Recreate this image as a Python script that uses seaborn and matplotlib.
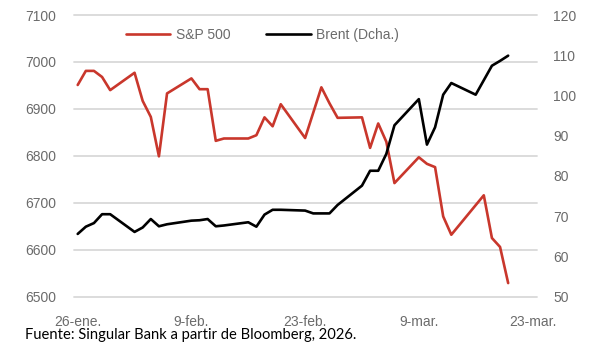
import pandas as pd
import matplotlib.pyplot as plt
import seaborn as sns

# business days 26-ene .. 20-mar (Feb 16 holiday filled with previous close)
dates = pd.bdate_range('2026-01-26', '2026-03-20')

sp500 = [6951, 6981, 6981, 6968, 6940,
         6977, 6917, 6883, 6799, 6933,
         6965, 6942, 6942, 6832, 6837,
         6837, 6844, 6882, 6863, 6910,
         6838, 6892, 6946, 6912, 6881,
         6882, 6817, 6869, 6830, 6742,
         6797, 6783, 6776, 6671, 6632,
         6695, 6716, 6625, 6606, 6529]

brent = [65.6, 67.4, 68.3, 70.5, 70.5,
         66.1, 67.2, 69.3, 67.5, 68.0,
         68.9, 69.0, 69.3, 67.5, 67.7,
         68.5, 67.4, 70.4, 71.6, 71.6,
         71.4, 70.7, 70.7, 70.7, 72.8,
         77.6, 81.3, 81.3, 85.5, 92.6,
         99.1, 87.8, 92.1, 100.2, 103.1,
         100.2, 103.8, 107.4, 108.6, 109.9]

tick_dates = ['2026-01-26', '2026-02-09', '2026-02-23', '2026-03-09', '2026-03-23']
tick_labels = ['26-ene.', '9-feb.', '23-feb.', '9-mar.', '23-mar.']
series_labels = ['S&P 500', 'Brent (Dcha.)']
source = 'Fuente: Singular Bank a partir de Bloomberg, 2026.'

df = pd.DataFrame({'Fecha': dates, 'SP500': sp500, 'Brent': brent})

sns.set_style('white')
plt.rcParams['font.family'] = ['Liberation Sans', 'DejaVu Sans']

grey = '#6b6b6b'
red = '#c9372c'

fig = plt.figure(figsize=(6, 3.55), dpi=100)
ax = fig.add_axes([0.1233, 0.1642, 0.7717, 0.7935])
ax2 = ax.twinx()

sns.lineplot(data=df, x='Fecha', y='SP500', color=red, linewidth=1.9, ax=ax, legend=False)
sns.lineplot(data=df, x='Fecha', y='Brent', color='black', linewidth=1.9, ax=ax2, legend=False)

# axes ranges
start = pd.Timestamp('2026-01-26')
ax.set_xlim(start - pd.Timedelta(hours=11), start + pd.Timedelta(days=56.55))
ax.set_ylim(6500, 7100)
ax.set_yticks(range(6500, 7101, 100))
ax2.set_ylim(50, 120)
ax2.set_yticks(range(50, 121, 10))

ax.set_xticks(pd.to_datetime(tick_dates))
ax.set_xticklabels(tick_labels)

for a in (ax, ax2):
    a.set_xlabel('')
    a.set_ylabel('')
    for s in a.spines.values():
        s.set_visible(False)

ax.yaxis.grid(True, color='#d9d9d9', linewidth=1.3)
ax.xaxis.grid(False)
ax2.grid(False)
for gl in ax.get_ygridlines():
    gl.set_clip_on(False)

ax.tick_params(axis='y', length=0, pad=12.5, labelsize=10, labelcolor=grey)
ax.tick_params(axis='x', length=0, pad=13, labelsize=10, labelcolor=grey)
ax2.tick_params(axis='y', length=0, pad=11.5, labelsize=10, labelcolor=grey)

# legend
handles = [ax.lines[0], ax2.lines[0]]
fig.legend(handles, series_labels, loc='center', bbox_to_anchor=(0.4375, 0.901),
           ncol=2, frameon=False, handlelength=3.2, handletextpad=0.4,
           columnspacing=2.6, fontsize=10, labelcolor=grey)

fig.text(25 / 600, 1 - 335 / 355, source, fontsize=10.6, family=['Lato', 'DejaVu Sans'],
         color='black', va='center')

fig.savefig('out.png', dpi=100)
